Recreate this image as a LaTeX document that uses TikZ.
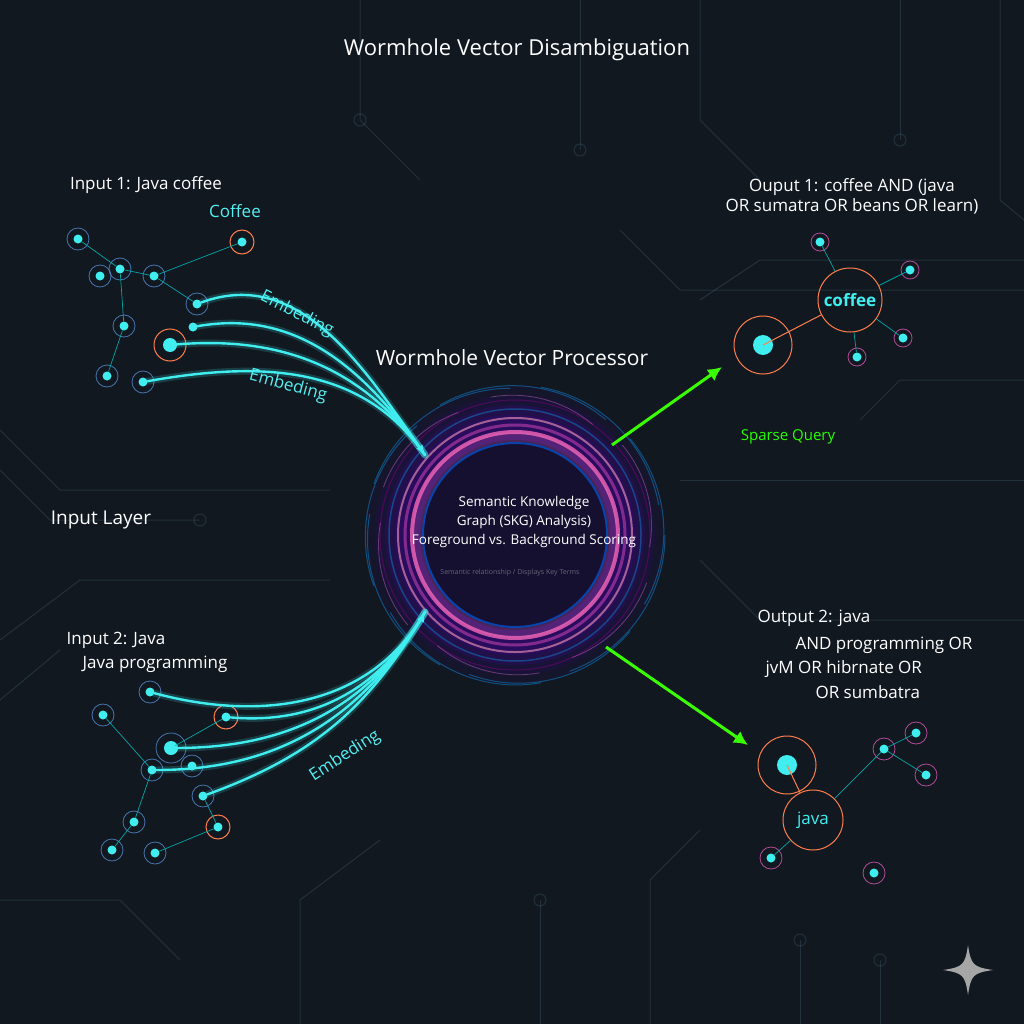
\documentclass[tikz,border=0pt]{standalone}
\usepackage{fontspec}
\setmainfont{Open Sans}
\usetikzlibrary{arrows.meta}
\definecolor{bgc}{RGB}{17,24,32}
\definecolor{hole}{RGB}{22,16,48}
\definecolor{aq}{RGB}{64,238,240}
\begin{document}
\begin{tikzpicture}[x=1pt,y=-1pt,
  dot/.style={circle,fill=aq,inner sep=0pt,minimum size=9pt},
  bigdot/.style={circle,fill=aq,inner sep=0pt,minimum size=14pt},
  ringb/.style={draw=cyan!50!blue!70,line width=0.8pt,opacity=0.8},
  ringr/.style={draw=red!45!orange!70,line width=1pt},
  edge/.style={draw=teal!70!cyan,line width=0.7pt},
  fiber/.style={draw=aq,line width=2.4pt,line cap=round},
  glow/.style={draw=aq,line width=7pt,opacity=0.18,line cap=round},
  wtxt/.style={text=white,font=\fontsize{17}{20}\selectfont},
  ctxt/.style={text=aq!90!white,font=\fontsize{17}{20}\selectfont},
  circ/.style={draw=cyan!40!gray,line width=1pt,opacity=0.18},
  garrow/.style={draw=green!70!lime,line width=3pt,-{Latex[length=14pt,width=14pt]}}]
\fill[bgc] (0,0) rectangle (1024,1024);
\useasboundingbox (0,0) rectangle (1024,1024);
% circuit traces
\foreach \p in {
 {(0,430)--(60,490)--(330,490)},{(0,470)--(50,520)--(200,520)},
 {(0,640)--(80,580)--(330,580)},{(0,700)--(60,650)},
 {(620,230)--(680,290)--(1024,290)},{(700,300)--(760,260)--(1024,260)},
 {(700,560)--(760,620)--(1024,620)},{(680,480)--(1024,480)},
 {(300,1024)--(300,900)--(380,840)},{(540,1024)--(540,900)},
 {(650,1024)--(650,880)--(700,830)},{(800,1024)--(800,940)},
 {(360,0)--(360,120)--(420,180)},{(580,0)--(580,150)},{(700,0)--(700,120)--(760,180)},
 {(900,0)--(900,140)},{(1024,380)--(900,380)--(860,420)},{(0,900)--(120,900)--(180,960)},
 {(880,1024)--(880,960)},{(1000,0)--(1000,200)--(1024,220)}}
  {\draw[circ] \p;}
\foreach \c in {(360,120),(580,150),(900,140),(200,520),(540,900),(800,940),(880,960)}
  \draw[circ] \c circle (6);
% wormhole
\foreach \r/\o in {150/0.08,140/0.1,130/0.15,120/0.2}
  \fill[violet!60!blue,opacity=\o] (515,535) circle (\r);
\fill[hole] (515,535) circle (95);
\foreach \r/\c/\w/\o in {98/violet!70!white/10/0.35,103/magenta!60!white/4/0.8,110/violet!80!white/3/0.8,
  117/pink!70!violet/2/0.7,92/blue!60!cyan/2/0.6,126/cyan!60!blue/1.5/0.5,135/violet/1/0.5}
  \draw[\c,line width=\w pt,opacity=\o] (515,535) circle (\r);
\foreach \a in {0,40,...,320}
  \draw[cyan!70!blue,line width=1pt,opacity=0.5] (515,535) ++(\a:150) arc (\a:\a+70:145);
\foreach \a in {20,80,...,320}
  \draw[violet!60!white,line width=0.8pt,opacity=0.5] (515,535) ++(\a:140) arc (\a:\a+50:125);
\coordinate (hub1) at (425,455);
\coordinate (hub2) at (425,612);
\coordinate (a1) at (612,445); \coordinate (a2) at (606,647);
% upper-left graph
\foreach \n/\x/\y in {n1/78/239,n2/100/276,n3/120/269,n4/154/276,n5/242/242,n6/197/304,n7/124/326,n8/193/327,n9/170/345,n10/107/376,n11/143/382}
  \node[dot] (\n) at (\x,\y) {};
\foreach \n in {n1,n2,n3,n4,n6,n7,n10,n11} \draw[ringb] (\n) circle (11);
\draw[ringr] (n5) circle (12); \draw[ringr] (n9) circle (16);
\node[bigdot] at (n9) {};
\draw[edge] (n1)--(n3) (n3)--(n4) (n4)--(n5) (n4)--(n6) (n3)--(n7) (n7)--(n10);
\foreach \n/\b in {n6/20,n8/10,n9/5,n11/10}{
  \draw[glow] (\n) to[out=\b,in=125] (hub1);
  \draw[fiber] (\n) to[out=\b,in=125] (hub1);}
\draw[fiber,-{Latex[length=10pt]}] (hub1) ++(-2,-3) -- (hub1);
% lower-left graph
\foreach \n/\x/\y in {a/150/692,b/103/715,c/226/717,d/171/748,e/152/770,f/192/766,g/203/796,h/134/822,i/218/827,j/112/850,k/155/853}
  \node[dot] (\n) at (\x,\y) {};
\foreach \n in {a,b,e,f,g,h,j,k} \draw[ringb] (\n) circle (11);
\draw[ringb] (d) circle (15); \node[bigdot] at (d) {};
\draw[ringr] (c) circle (12); \draw[ringr] (i) circle (12);
\draw[edge] (b)--(e) (c)--(d) (e)--(h) (h)--(j) (g)--(i) (i)--(k);
\foreach \n/\b in {a/-15,c/-5,d/0,e/0,g/20}{
  \draw[glow] (\n) to[out=\b,in=-120] (hub2);
  \draw[fiber] (\n) to[out=\b,in=-120] (hub2);}
\draw[fiber,-{Latex[length=10pt]}] (hub2) ++(-3,6) -- (hub2);
% upper-right graph
\node[circle,ringr,minimum size=64pt,text=aq,font=\fontsize{17}{20}\selectfont\bfseries] (cof) at (850,300) {coffee};
\node[circle,ringr,minimum size=58pt] (cb) at (763,345) {};
\node[bigdot,minimum size=20pt] at (cb) {};
\foreach \n/\x/\y in {r1/820/242,r2/910/270,r3/903/338,r4/857/357}{
  \node[dot] (\n) at (\x,\y) {}; \draw[draw=violet!60!pink,line width=0.8pt] (\n) circle (9);}
\draw[edge] (r1)--(cof) (r2)--(cof) (r3)--(cof) (r4)--(cof);
\draw[ringr] (cb.center)--(cof);
% lower-right graph
\node[circle,ringr,minimum size=60pt,text=aq,font=\fontsize{17}{20}\selectfont] (jav) at (813,820) {java};
\node[circle,ringr,minimum size=58pt] (jb) at (787,765) {};
\node[bigdot,minimum size=20pt] at (jb) {};
\foreach \n/\x/\y in {l1/884/749,l2/916/733,l3/926/775,l4/771/858,l5/874/873}{
  \node[dot] (\n) at (\x,\y) {}; \draw[draw=violet!60!pink,line width=0.8pt] (\n) circle (11);}
\draw[edge] (l1)--(jav) (l1)--(l2) (l1)--(l3) (l4)--(jav);
\draw[ringr] (jb.center)--(jav);
% green arrows
\coordinate (t1) at (722,367); \coordinate (t2) at (748,745);
\draw[garrow] (a1)--(t1);
\draw[garrow] (a2)--(t2);
% texts
\node[wtxt,font=\fontsize{22}{26}\selectfont] (title) at (517,50) {Wormhole Vector Disambiguation};
\node[wtxt] (in1) at (146,185) {Input 1: Java coffee};
\node[ctxt] (cofl) at (235,211) {Coffee};
\node[ctxt,rotate=-27,inner sep=0pt] (em1) at (297,314) {Embeding};
\node[ctxt,rotate=-15,inner sep=0pt] (em2) at (288,386) {Embeding};
\node[wtxt,font=\fontsize{21}{25}\selectfont] (wvp) at (512,358) {Wormhole Vector Processor};
\node[wtxt,font=\fontsize{19}{22}\selectfont] (il) at (101,520) {Input Layer};
\node[wtxt] (in2a) at (116,640) {Input 2: Java};
\node[wtxt] (in2b) at (155,664) {Java programming};
\node[ctxt,rotate=33,inner sep=0pt] (em3) at (345,756) {Embeding};
\node[wtxt,align=center] (o1) at (852,196) {Ouput 1: coffee AND (java\\OR sumatra OR beans OR learn)};
\node[text=green!80!lime,font=\fontsize{15}{18}\selectfont] (sq) at (788,437) {Sparse Query};
\node[wtxt,anchor=west] (o2a) at (754,618) {Output 2: java};
\node[wtxt,anchor=west] (o2b) at (792,645) {AND programming OR};
\node[wtxt,anchor=west] (o2c) at (762,669) {jvM OR hibrnate OR};
\node[wtxt,anchor=west] (o2d) at (812,692) {OR sumbatra};
\node[text=white,align=center,font=\fontsize{13.5}{19}\selectfont] (ctr) at (524,522) {Semantic Knowledge\\Graph (SKG) Analysis)\\Foreground vs. Background Scoring};
\node[text=white,opacity=0.35,font=\fontsize{7}{8}\selectfont] (ctr2) at (510,573) {Semantic relationship / Displays Key Terms};
% sparkle
\fill[gray!70] (968,945) .. controls (971,965) and (973,967) .. (993,970) .. controls (973,973) and (971,975) .. (968,995) .. controls (965,975) and (963,973) .. (943,970) .. controls (963,967) and (965,965) .. (968,945);
\end{tikzpicture}
\end{document}
